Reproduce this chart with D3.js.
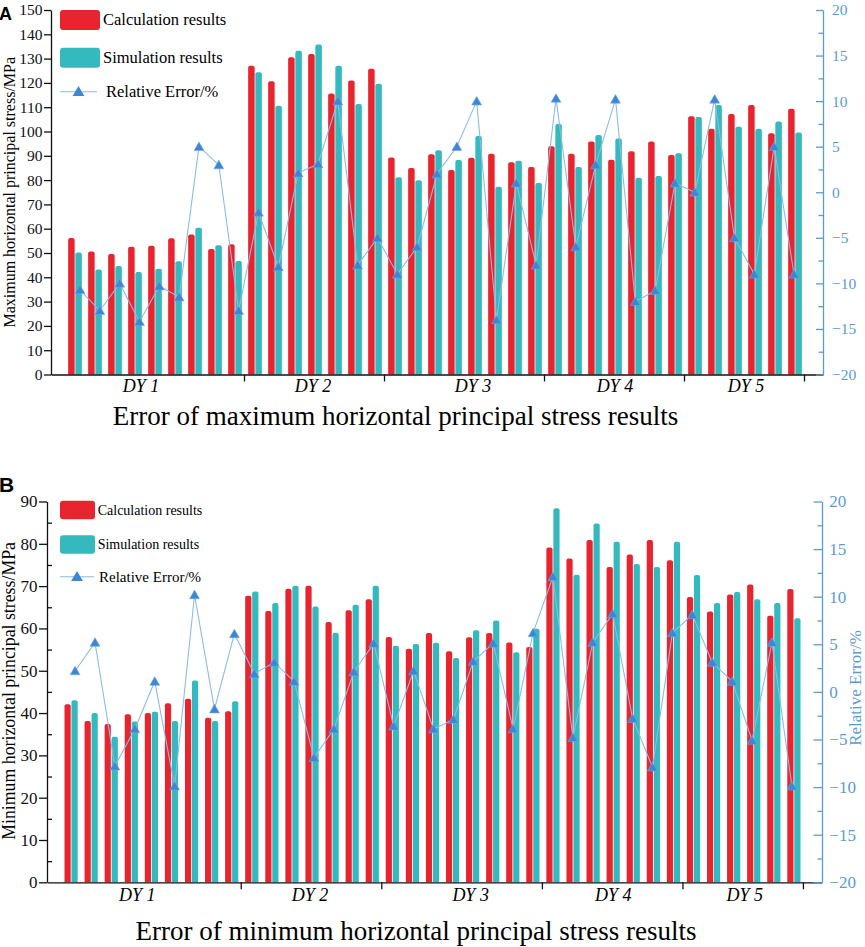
<!DOCTYPE html>
<html>
<head>
<meta charset="utf-8">
<script src="https://cdn.jsdelivr.net/npm/d3@7"></script>
<style>
  body { margin: 0; background: #fff; }
  svg { display: block; }
</style>
</head>
<body>
<svg id="chart" width="865" height="947"></svg>
<script>
// ---- data ----
var groups = ["DY 1", "DY 2", "DY 3", "DY 4", "DY 5"];
var groupSizes = [9, 7, 8, 7, 6];

var maxCalc = [56.2, 50.6, 49.6, 52.6, 53.0, 56.1, 57.6, 51.6, 53.6,
               127.1, 120.7, 130.6, 131.9, 115.6, 121.0, 125.8,
               89.3, 85.0, 90.6, 84.2, 89.2, 90.8, 87.3, 85.4,
               93.9, 90.8, 95.9, 88.4, 91.9, 95.9, 90.3,
               106.3, 101.1, 107.2, 110.9, 99.3, 109.4];
var maxSim = [50.2, 43.2, 44.7, 42.2, 43.5, 46.6, 60.4, 53.2, 46.7,
              124.4, 110.6, 133.2, 135.8, 127.1, 111.3, 119.6,
              81.2, 79.9, 92.3, 88.3, 98.1, 77.3, 88.0, 78.8,
              103.1, 85.4, 98.6, 97.1, 81.0, 81.7, 91.1,
              106.0, 110.9, 102.0, 101.1, 104.1, 99.6];
var maxErr = [-10.7, -13, -10, -14.2, -10.3, -11.5, 5, 3, -13,
              -2.2, -8.2, 2.1, 3.1, 10, -8, -5,
              -9, -6, 2, 5, 10, -14, 1, -8,
              10.3, -6, 3, 10.2, -12, -10.8, 1,
              0, 10.2, -5, -9, 5, -9];

var minCalc = [42.1, 38.1, 37.4, 39.7, 40.0, 42.3, 43.4, 38.9, 40.4,
               67.7, 64.1, 69.4, 70.1, 61.5, 64.3, 66.9,
               58.0, 55.2, 58.9, 54.6, 57.9, 58.9, 56.7, 55.6,
               79.1, 76.5, 80.9, 74.5, 77.5, 80.9, 76.1,
               67.4, 64.0, 68.0, 70.4, 63.0, 69.3];
var minSim = [43.0, 40.0, 34.4, 38.0, 40.3, 38.1, 47.7, 38.1, 42.8,
              68.7, 66.0, 70.1, 65.2, 59.0, 65.6, 70.1,
              55.9, 56.3, 56.6, 53.0, 59.6, 61.9, 54.4, 59.9,
              88.4, 72.7, 84.8, 80.5, 75.2, 74.5, 80.5,
              72.6, 66.0, 68.6, 66.9, 66.0, 62.4];
var minErr = [2.2, 5.2, -7.8, -3.9, 1.1, -9.9, 10.2, -1.8, 6.1,
              1.9, 3.1, 1.1, -6.9, -3.9, 2.1, 5.1,
              -3.6, 2.2, -3.9, -2.9, 3.2, 5.1, -3.9, 6.2,
              12.1, -4.8, 5.2, 8.2, -2.8, -7.9, 6.2,
              8.1, 3.1, 1.1, -5.1, 5.2, -9.9];

var maxTicks = [0, 10, 20, 30, 40, 50, 60, 70, 80, 90, 100, 110, 120, 130, 140, 150];
var minTicks = [0, 10, 20, 30, 40, 50, 60, 70, 80, 90];
var errTicks = [-20, -15, -10, -5, 0, 5, 10, 15, 20];
var legendNames = ["Calculation results", "Simulation results", "Relative Error/%"];

// ---- styling ----
var red = "#e8242f", teal = "#33b9be", triBlue = "#3d86d3",
    lineBlue = "#8dbbe8", axisBlue = "#5b9bd5";
var serif = '"Liberation Serif", "Times New Roman", serif';

var svg = d3.select("#chart");

function barPath(x0, y0, w, h) {
  var r = Math.min(2, w / 2, h);
  return "M" + x0 + "," + (y0 + h) + "V" + (y0 + r) +
    "Q" + x0 + "," + y0 + " " + (x0 + r) + "," + y0 +
    "H" + (x0 + w - r) +
    "Q" + (x0 + w) + "," + y0 + " " + (x0 + w) + "," + (y0 + r) +
    "V" + (y0 + h) + "Z";
}

function styleAxis(sel, color, size) {
  sel.select(".domain").attr("stroke", color).attr("stroke-width", 1.3);
  sel.selectAll(".tick line").attr("stroke", color).attr("stroke-width", 1.3);
  sel.selectAll(".tick text")
      .attr("fill", color)
      .style("font-family", serif)
      .style("font-size", size + "px");
}

function drawPanel(p, calc, sim, err, leftTicks) {
  var g = svg.append("g");
  var n = calc.length;
  var idx = d3.range(1, n + 1);

  var x = d3.scaleLinear().domain([-0.2, 38.4]).range(p.xRange);
  var yL = d3.scaleLinear().domain([0, leftTicks[leftTicks.length - 1]]).range(p.yRange);
  var yR = d3.scaleLinear().domain([errTicks[0], errTicks[errTicks.length - 1]]).range(p.yRange);
  var xLine = d3.scaleLinear().domain([1, n])
      .range([x(1) + p.lineShift[0], x(n) + p.lineShift[1]]);

  // bars
  g.append("g").selectAll("path")
      .data(idx)
    .enter().append("path")
      .attr("fill", red)
      .attr("d", function(i) {
        var v = calc[i - 1];
        return barPath(x(i) - p.gap / 2 - p.bw, yL(v), p.bw, yL(0) - yL(v));
      });

  g.append("g").selectAll("path")
      .data(idx)
    .enter().append("path")
      .attr("fill", teal)
      .attr("d", function(i) {
        var v = sim[i - 1];
        return barPath(x(i) + p.gap / 2, yL(v), p.bw, yL(0) - yL(v));
      });

  // x axis with group separators
  var cum = d3.cumsum(groupSizes);
  var bounds = Array.from(cum, function(c) { return c + 0.45; });
  var xAxis = g.append("g")
      .attr("transform", "translate(0," + p.yRange[0] + ")")
      .call(d3.axisBottom(x).tickValues(bounds).tickSize(7).tickSizeOuter(0).tickFormat(""));
  styleAxis(xAxis, "#111", 15);

  var labelAt = [4.3, 12.9, 20.9, 28.0, 34.55];
  g.append("g").selectAll("text")
      .data(groups)
    .enter().append("text")
      .attr("x", function(d, i) { return x(labelAt[i]); })
      .attr("y", p.groupLabelY)
      .attr("text-anchor", "middle")
      .style("font-family", serif)
      .style("font-style", "italic")
      .style("font-size", "18px")
      .text(function(d) { return d; });

  // left axis
  var left = g.append("g")
      .attr("transform", "translate(" + p.xRange[0] + ",0)")
      .call(d3.axisLeft(yL).tickValues(leftTicks).tickSize(p.leftTick).tickSizeOuter(0).tickPadding(1.5));
  styleAxis(left, "#111", p.tickFont);

  if (p.leftMinor) {
    var minorVals = leftTicks.slice(1).map(function(t) { return t - 5; });
    var lm = g.append("g")
        .attr("transform", "translate(" + p.xRange[0] + ",0)")
        .call(d3.axisLeft(yL).tickValues(minorVals).tickSize(-5).tickFormat(""));
    lm.select(".domain").remove();
    styleAxis(lm, "#111", p.tickFont);
  }

  // right axis (inward ticks)
  var right = g.append("g")
      .attr("transform", "translate(" + p.xRange[1] + ",0)")
      .call(d3.axisRight(yR).tickValues(errTicks).tickSize(-p.rightTick).tickSizeOuter(0).tickPadding(p.rightPad));
  styleAxis(right, axisBlue, p.tickFont);

  var errMinor = errTicks.slice(1).map(function(t) { return t - 2.5; });
  var rm = g.append("g")
      .attr("transform", "translate(" + p.xRange[1] + ",0)")
      .call(d3.axisRight(yR).tickValues(errMinor).tickSize(-4.5).tickFormat(""));
  rm.select(".domain").remove();
  styleAxis(rm, axisBlue, p.tickFont);

  // relative error line
  var line = d3.line()
      .x(function(i) { return xLine(i); })
      .y(function(i) { return yR(err[i - 1]); });

  g.append("path")
      .datum(idx)
      .attr("fill", "none")
      .attr("stroke", lineBlue)
      .attr("stroke-width", 1.1)
      .attr("d", line);

  var tri = d3.symbol().type(d3.symbolTriangle).size(42);
  g.append("g").selectAll("path")
      .data(idx)
    .enter().append("path")
      .attr("transform", function(i) {
        return "translate(" + xLine(i) + "," + (yR(err[i - 1]) + 1) + ")";
      })
      .attr("fill", triBlue)
      .attr("stroke", "#6fa8e2")
      .attr("stroke-width", 0.6)
      .attr("d", tri);

  // legend
  var L = p.legend;
  var lg = g.append("g");
  lg.append("rect")
      .attr("x", L.x).attr("y", L.rows[0] - L.h / 2)
      .attr("width", L.w).attr("height", L.h).attr("rx", 3)
      .attr("fill", red);
  lg.append("rect")
      .attr("x", L.x).attr("y", L.rows[1] - L.h / 2)
      .attr("width", L.w).attr("height", L.h).attr("rx", 3)
      .attr("fill", teal);
  lg.append("line")
      .attr("x1", L.x).attr("x2", L.x + L.lineW)
      .attr("y1", L.rows[2]).attr("y2", L.rows[2])
      .attr("stroke", lineBlue).attr("stroke-width", 1.1);
  lg.append("path")
      .attr("transform", "translate(" + (L.x + L.lineW / 2) + "," + (L.rows[2] + 1) + ")")
      .attr("fill", triBlue)
      .attr("d", d3.symbol().type(d3.symbolTriangle).size(60));

  lg.selectAll("text")
      .data(legendNames)
    .enter().append("text")
      .attr("x", function(d, i) { return L.textX[i]; })
      .attr("y", function(d, i) { return L.rows[i]; })
      .attr("dy", "0.33em")
      .style("font-family", serif)
      .style("font-size", function(d, i) { return L.font[i] + "px"; })
      .text(function(d) { return d; });

  // titles
  g.append("text")
      .attr("transform", "translate(" + p.yTitleX + "," + ((p.yRange[0] + p.yRange[1]) / 2 + p.yTitleShift) + ") rotate(-90)")
      .attr("text-anchor", "middle")
      .style("font-family", serif)
      .style("font-size", p.yTitleFont + "px")
      .text(p.yTitle);

  if (p.rTitle) {
    g.append("text")
        .attr("transform", "translate(" + p.rTitleX + "," + p.rTitleY + ") rotate(-90)")
        .attr("text-anchor", "middle")
        .attr("fill", axisBlue)
        .style("font-family", serif)
        .style("font-size", "17px")
        .text(p.rTitle);
  }

  g.append("text")
      .attr("x", p.titleX)
      .attr("y", p.titleY)
      .attr("text-anchor", "middle")
      .style("font-family", serif)
      .style("font-size", "27px")
      .text(p.title);

  g.append("text")
      .attr("x", -1)
      .attr("y", p.tagY)
      .style("font-family", '"Liberation Sans", Arial, sans-serif')
      .style("font-weight", "bold")
      .style("font-size", p.tagFont + "px")
      .text(p.tag);
}

drawPanel({
  xRange: [51, 823], yRange: [374.5, 10],
  bw: 6.5, gap: 0.7, lineShift: [5, -1],
  leftTick: 7, leftMinor: false, rightTick: 7, rightPad: 9, tickFont: 15.5,
  groupLabelY: 392,
  legend: { x: 60, w: 40, h: 20, lineW: 37, rows: [20, 57.7, 91.7],
            textX: [103, 103, 106], font: [16.5, 16.5, 16.5] },
  yTitle: "Maximum horizontal principal stress/MPa", yTitleX: 14.5, yTitleShift: 0, yTitleFont: 16,
  title: "Error of maximum horizontal principal stress results", titleX: 395.5, titleY: 425,
  tag: "A", tagY: 20, tagFont: 18
}, maxCalc, maxSim, maxErr, maxTicks);

drawPanel({
  xRange: [47, 822], yRange: [882.3, 501.5],
  bw: 6.2, gap: 0.8, lineShift: [4, -2],
  leftTick: 8, leftMinor: true, rightTick: 8.5, rightPad: 7.3, tickFont: 17,
  groupLabelY: 900.7,
  legend: { x: 60, w: 35, h: 18.6, lineW: 34, rows: [510, 544.5, 576.7],
            textX: [97.7, 97.7, 99], font: [14, 14, 15] },
  yTitle: "Minimum horizontal principal stress/MPa", yTitleX: 15, yTitleShift: -1, yTitleFont: 17.8,
  rTitle: "Relative Error/%", rTitleX: 861, rTitleY: 688,
  title: "Error of minimum horizontal principal stress results", titleX: 416, titleY: 940,
  tag: "B", tagY: 492, tagFont: 21
}, minCalc, minSim, minErr, minTicks);
</script>
</body>
</html>
